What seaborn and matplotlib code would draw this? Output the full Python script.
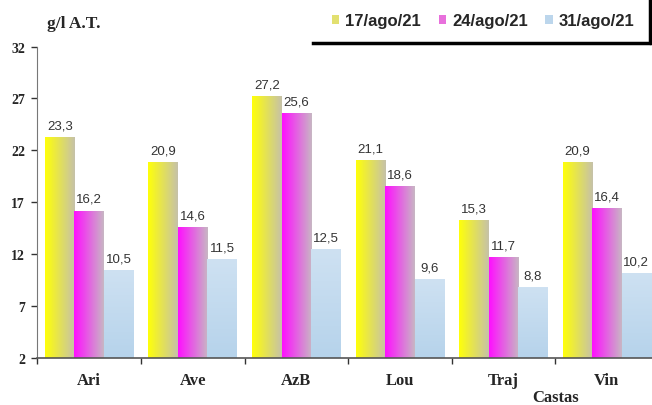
import numpy as np
import pandas as pd
import matplotlib
matplotlib.use("Agg")
import matplotlib.pyplot as plt
import seaborn as sns
from matplotlib.lines import Line2D
from matplotlib.patches import Patch

# Données
castas = ["Ari", "Ave", "AzB", "Lou", "Traj", "Vin"]
datas = ["17/ago/21", "24/ago/21", "31/ago/21"]
v_17 = [23.3, 20.9, 27.2, 21.1, 15.3, 20.9]
v_24 = [16.2, 14.6, 25.6, 18.6, 11.7, 16.4]
v_31 = [10.5, 11.5, 12.5, 9.6, 8.8, 10.2]
y_ticks = [2, 7, 12, 17, 22, 27, 32]

df = pd.DataFrame({
    "casta": castas * 3,
    "data": [datas[0]] * 6 + [datas[1]] * 6 + [datas[2]] * 6,
    "valor": v_17 + v_24 + v_31,
})

sns.set_style("white")
plt.rcParams["font.family"] = ["Liberation Sans", "DejaVu Sans"]

fig = plt.figure(figsize=(6.52, 4.06), dpi=100)
ax = fig.add_axes([0.0575, 0.116, 0.9525, 0.767])

sns.barplot(data=df, x="casta", y="valor", hue="data", order=castas,
            hue_order=datas, width=0.855, gap=0, ax=ax, legend=False,
            palette=["#f0f000", "#f000f0", "#bcd6ec"], saturation=1)

ax.set_xlim(-0.5, 5.5)
ax.set_ylim(2, 32)

# dégradés (gauche -> droite pour jaune/magenta, vertical pour bleu)
def grad_h(c0, c1):
    t = np.linspace(0, 1, 64)
    g = np.array([[np.array(c0) * (1 - s) + np.array(c1) * s for s in t]])
    return g / 255.0

def grad_v(c0, c1):
    t = np.linspace(0, 1, 64)
    g = np.array([[np.array(c0) * (1 - s) + np.array(c1) * s] for s in t])
    return g / 255.0

grads = [
    grad_h((255, 255, 10), (198, 194, 168)),
    grad_h((255, 15, 255), (200, 182, 196)),
    grad_v((206, 225, 242), (182, 211, 235)),
]

series = [v_17, v_24, v_31]
for k, cont in enumerate(ax.containers):
    for p in cont:
        x0 = p.get_x()
        w, h = p.get_width(), p.get_height()
        # origine en haut : la première ligne du dégradé est en haut de la barre
        im = ax.imshow(grads[k], extent=[x0, x0 + w, 2, h], origin="upper",
                       aspect="auto", zorder=2, interpolation="bilinear")
        im.set_clip_path(p)
        p.set_facecolor("none")
        p.set_edgecolor("none")

ax.set_xlim(-0.5, 5.5)
ax.set_ylim(2, 32)

for k, cont in enumerate(ax.containers):
    labels = [f"{v:.1f}".replace(".", ",") for v in series[k]]
    ax.bar_label(cont, labels=labels, padding=4, fontsize=9.5, color="#333333")

ax.set_yticks(y_ticks)
ax.set_yticklabels([str(t) for t in y_ticks], fontfamily="Liberation Serif",
                   fontweight="bold", fontsize=10)
ax.set_xticks(range(6))
ax.set_xticklabels(castas, fontfamily="Liberation Serif", fontweight="bold", fontsize=12)
ax.set_xticks(np.arange(-0.5, 6, 1), minor=True)
ax.tick_params(axis="x", which="major", length=0, pad=10)
ax.tick_params(axis="x", which="minor", length=4, width=1, color="#333333", direction="out", bottom=True)
ax.tick_params(axis="y", length=4, width=1, color="#333333", direction="out", left=True, pad=5)
ax.set_xlabel("")
ax.set_ylabel("")
sns.despine(ax=ax, top=True, right=True)
ax.spines["left"].set_color("#777777")
ax.spines["bottom"].set_color("#555555")
ax.spines["bottom"].set_linewidth(1.2)

fig.text(47 / 652, 1 - 28 / 406, "g/l A.T.", fontfamily="Liberation Serif",
         fontweight="bold", fontsize=12.5, va="baseline")
fig.text(556 / 652, 1 - 398 / 406, "Castas", fontfamily="Liberation Serif",
         fontweight="bold", fontsize=12, ha="center", va="center")

# légende
handles = [Patch(facecolor=c, edgecolor="none") for c in ["#e2e070", "#e870dc", "#bcd6ec"]]
leg = fig.legend(handles, datas, loc="upper left", bbox_to_anchor=(332 / 652, 1 - 14 / 406), ncol=3,
                 frameon=False, handlelength=0.45, handleheight=0.45, handletextpad=0.35,
                 columnspacing=1.05, borderpad=0, borderaxespad=0,
                 prop={"family": "Liberation Sans", "weight": "bold", "size": 12})
fig.add_artist(Line2D([313 / 652, 0.997], [1 - 44 / 406, 1 - 44 / 406], color="black", lw=2.5,
                      transform=fig.transFigure, solid_capstyle="projecting"))
fig.add_artist(Line2D([0.997, 0.997], [1 - 44 / 406, 1.0], color="black", lw=2.5,
                      transform=fig.transFigure))

fig.savefig("out.png", dpi=100)
